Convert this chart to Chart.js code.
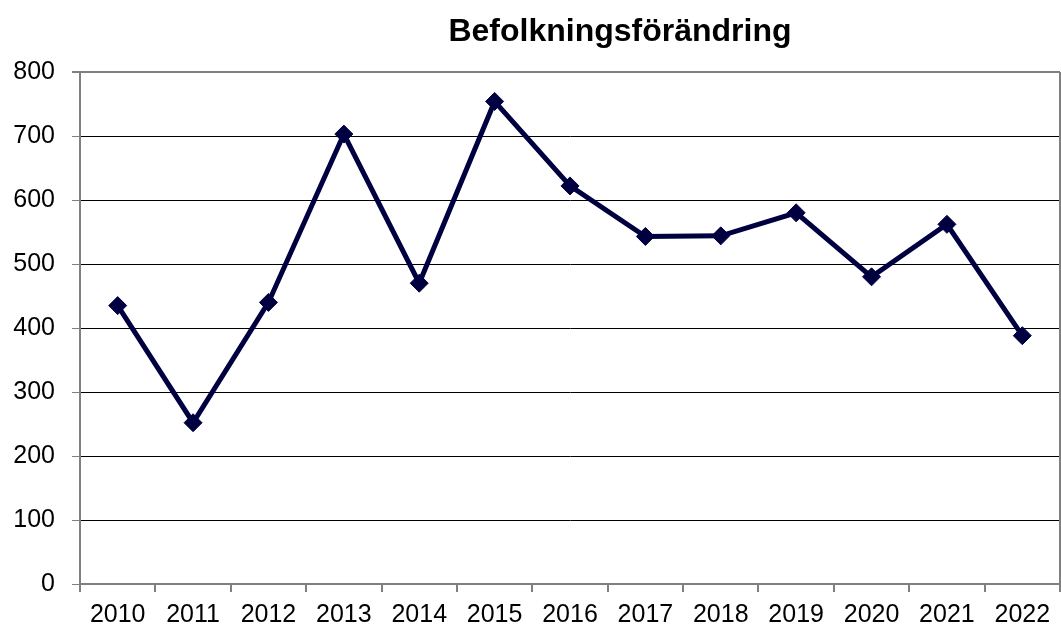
<!DOCTYPE html>
<html>
<head>
<meta charset="utf-8">
<script src="https://cdn.jsdelivr.net/npm/chart.js@4"></script>
<style>
  html, body { margin: 0; padding: 0; background: #fff; }
  #wrap { width: 1061px; height: 628px; }
</style>
</head>
<body>
<div id="wrap"><canvas id="chart" width="1061" height="628"></canvas></div>
<script>
const TITLE = 'Befolkningsförändring';
const YEARS = ['2010', '2011', '2012', '2013', '2014', '2015', '2016', '2017', '2018', '2019', '2020', '2021', '2022'];
const CHANGE = [435, 252, 440, 703, 470, 754, 622, 543, 544, 580, 480, 562, 388];
const Y_TICKS = [0, 100, 200, 300, 400, 500, 600, 700, 800];

const FONT = 'Arial, "Liberation Sans", sans-serif';
const AXIS_GREY = '#808080';
const NAVY = '#000040';

// titel och ram runt ritytan
const framePlugin = {
    id: 'frame',
    afterDraw(chart) {
        const { ctx, chartArea } = chart;
        ctx.save();
        ctx.strokeStyle = AXIS_GREY;
        ctx.lineWidth = 2;
        ctx.beginPath();
        ctx.moveTo(chartArea.right, chartArea.top);
        ctx.lineTo(chartArea.right, chartArea.bottom);
        ctx.stroke();
        ctx.fillStyle = '#000';
        ctx.font = 'bold 32px ' + FONT;
        ctx.textAlign = 'center';
        ctx.textBaseline = 'middle';
        ctx.fillText(TITLE, 620, 32);
        ctx.restore();
    }
};

new Chart(document.getElementById('chart'), {
    type: 'line',
    data: {
        labels: YEARS,
        datasets: [{
            data: CHANGE,
            borderColor: NAVY,
            backgroundColor: NAVY,
            borderWidth: 5,
            pointStyle: 'rectRot',
            pointRadius: 9,
            pointHoverRadius: 9,
            pointBorderWidth: 1,
            tension: 0,
            fill: false,
            clip: false
        }]
    },
    options: {
        responsive: false,
        animation: false,
        layout: { autoPadding: false, padding: { top: 72, right: 1, left: 0, bottom: 0 } },
        plugins: {
            legend: { display: false },
            tooltip: { enabled: false }
        },
        scales: {
            x: {
                offset: true,
                grid: {
                    offset: true,
                    drawOnChartArea: false,
                    drawTicks: true,
                    tickLength: 8,
                    color: AXIS_GREY,
                    lineWidth: 2
                },
                border: { color: AXIS_GREY, width: 2 },
                ticks: {
                    autoSkip: false,
                    maxRotation: 0,
                    minRotation: 0,
                    padding: 8,
                    color: '#000',
                    font: { family: FONT, size: 25 }
                },
                afterFit(scale) {
                    scale.height = 44;
                    scale.paddingLeft = 0;
                    scale.paddingRight = 0;
                }
            },
            y: {
                min: 0,
                max: 800,
                afterBuildTicks(scale) { scale.ticks = Y_TICKS.map(v => ({ value: v })); },
                grid: {
                    color: ctx => (ctx.tick && ctx.tick.value === 800) ? AXIS_GREY : '#000',
                    lineWidth: ctx => (ctx.tick && ctx.tick.value === 800) ? 2 : 1,
                    tickColor: AXIS_GREY,
                    tickLength: 8
                },
                border: { color: AXIS_GREY, width: 2 },
                ticks: {
                    padding: 17,
                    color: '#000',
                    font: { family: FONT, size: 25 }
                },
                afterFit(scale) {
                    scale.width = 80;
                    scale.paddingTop = 0;
                    scale.paddingBottom = 0;
                }
            }
        }
    },
    plugins: [framePlugin]
});
</script>
</body>
</html>
